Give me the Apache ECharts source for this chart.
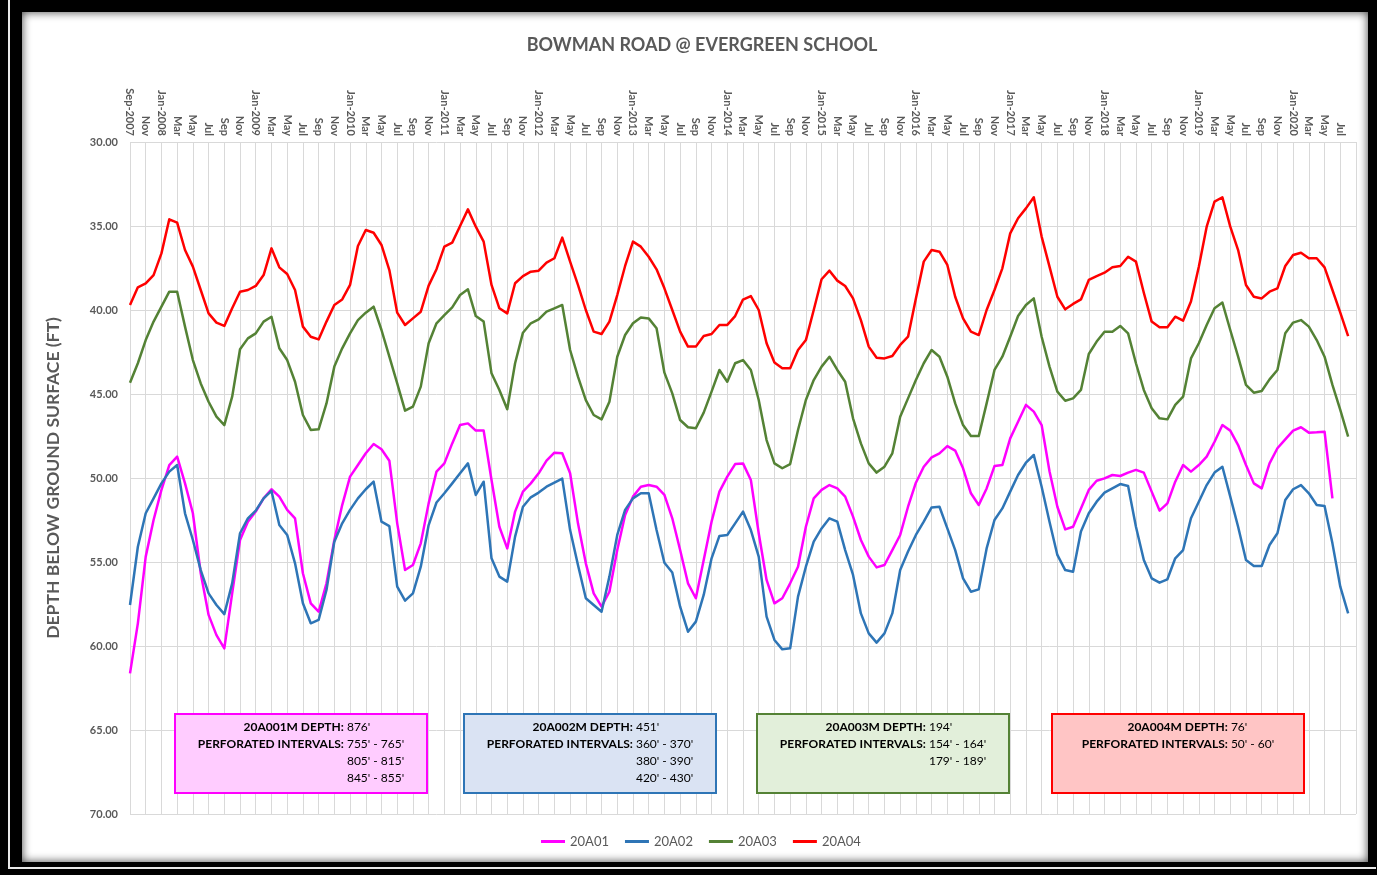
<!DOCTYPE html>
<html>
<head>
<meta charset="utf-8">
<script src="https://cdn.jsdelivr.net/npm/echarts@6/dist/echarts.min.js"></script>
<style>
  html, body { margin:0; padding:0; width:1377px; height:875px; background:#000; overflow:hidden; }
  #line { position:absolute; left:8px; top:0px; width:1366px; height:867px; border-left:2px solid #e8e8e8; border-bottom:2px solid #e8e8e8; }
  #panel { position:absolute; left:22px; top:12px; width:1346px; height:850px; background:#fff; box-shadow: inset 0 0 10px rgba(0,0,0,0.75); }
  #chart { position:absolute; left:0; top:0; width:1377px; height:875px; }
</style>
</head>
<body>
<div id="line"></div>
<div id="panel"></div>
<div id="chart"></div>
<script>
// ---- categories: monthly, Sep 2007 .. Aug 2020
const monthNames = ['Jan','Feb','Mar','Apr','May','Jun','Jul','Aug','Sep','Oct','Nov','Dec'];
const categories = [];
for (let y = 2007, m = 8; !(y === 2020 && m === 8); ) {
  categories.push(monthNames[m] + '-' + y);
  m++; if (m === 12) { m = 0; y++; }
}
categories.push('Aug-2020');

const yTicks = [30, 35, 40, 45, 50, 55, 60, 65, 70];
const seriesNames = ['20A01', '20A02', '20A03', '20A04'];

const s20A01 = [
61.63,58.65,54.68,52.50,50.71,49.23,48.73,50.32,52.10,55.67,58.15,59.35,60.14,56.87,53.69,52.60,52.00,51.21,50.67,51.11,
51.90,52.40,55.67,57.46,57.96,56.27,53.69,51.61,49.92,49.23,48.53,47.98,48.29,48.97,52.70,55.48,55.18,53.89,51.51,49.62,
49.13,47.94,46.85,46.75,47.18,47.18,50.12,52.90,54.19,52.00,50.81,50.32,49.72,48.97,48.49,48.53,49.72,52.70,55.08,56.87,
57.66,56.77,54.29,52.20,51.11,50.52,50.42,50.52,51.01,52.40,54.29,56.27,57.16,54.88,52.60,50.81,49.92,49.17,49.13,50.12,
53.29,56.07,57.46,57.16,56.27,55.28,52.90,51.21,50.71,50.42,50.62,51.11,52.30,53.69,54.68,55.32,55.18,54.29,53.39,51.71,
50.28,49.33,48.77,48.53,48.10,48.37,49.42,50.91,51.61,50.62,49.29,49.23,47.64,46.65,45.65,46.05,46.85,49.60,51.71,53.06,
52.90,51.81,50.71,50.16,50.02,49.82,49.88,49.68,49.52,49.68,50.81,51.94,51.51,50.22,49.23,49.62,49.23,48.73,47.84,46.85,
47.18,48.04,49.23,50.32,50.62,49.13,48.23,47.70,47.18,46.98,47.30,47.28,47.24,51.21,null,null];

const s20A02 = [
57.56,54.09,52.10,51.21,50.32,49.62,49.23,52.10,53.69,55.48,56.87,57.56,58.10,56.27,53.29,52.40,51.94,51.21,50.77,52.80,
53.39,55.08,57.46,58.65,58.45,56.67,53.79,52.70,51.90,51.21,50.67,50.22,52.60,52.86,56.47,57.30,56.87,55.28,52.80,51.46,
50.91,50.32,49.72,49.13,51.01,50.22,54.78,55.87,56.17,53.49,51.71,51.15,50.87,50.52,50.28,50.04,53.10,55.18,57.16,57.56,
57.96,55.87,53.39,51.90,51.21,50.91,50.91,53.10,55.04,55.63,57.66,59.15,58.55,56.96,54.78,53.45,53.39,52.70,52.00,53.10,
54.68,58.25,59.64,60.20,60.14,57.06,55.28,53.79,53.00,52.40,52.60,54.29,55.77,58.06,59.25,59.80,59.25,58.06,55.48,54.38,
53.39,52.60,51.75,51.71,53.00,54.29,55.97,56.77,56.63,54.19,52.50,51.81,50.81,49.82,49.09,48.63,50.52,52.60,54.58,55.48,
55.58,53.19,52.10,51.41,50.87,50.62,50.36,50.48,52.90,54.88,55.97,56.23,56.03,54.78,54.29,52.40,51.41,50.42,49.68,49.33,
51.11,52.90,54.88,55.24,55.24,53.99,53.29,51.31,50.67,50.42,50.91,51.61,51.67,53.89,56.47,58.06];

const s20A03 = [
44.33,43.17,41.79,40.69,39.80,38.91,38.91,40.99,42.98,44.37,45.46,46.35,46.85,45.16,42.34,41.69,41.39,40.69,40.40,42.28,
42.98,44.27,46.25,47.14,47.10,45.56,43.37,42.28,41.39,40.60,40.16,39.80,41.19,42.78,44.37,45.99,45.75,44.56,41.98,40.79,
40.30,39.84,39.11,38.77,40.36,40.69,43.77,44.76,45.91,43.17,41.35,40.79,40.56,40.10,39.90,39.70,42.38,43.97,45.36,46.25,
46.51,45.46,42.78,41.49,40.79,40.44,40.50,41.09,43.73,44.96,46.55,46.98,47.04,46.11,44.86,43.57,44.27,43.17,42.98,43.57,
45.36,47.74,49.13,49.42,49.17,47.14,45.36,44.17,43.37,42.78,43.57,44.27,46.45,47.94,49.13,49.68,49.33,48.53,46.35,45.26,
44.17,43.17,42.38,42.78,43.97,45.56,46.85,47.50,47.50,45.56,43.57,42.78,41.59,40.36,39.70,39.31,41.59,43.37,44.86,45.40,
45.26,44.76,42.62,41.88,41.29,41.29,40.95,41.39,43.17,44.76,45.85,46.45,46.51,45.65,45.16,42.88,41.98,40.89,39.90,39.56,
41.19,42.78,44.46,44.92,44.82,44.13,43.57,41.39,40.75,40.60,40.99,41.79,42.78,44.46,45.95,47.54];

const s20A04 = [
39.70,38.65,38.41,37.92,36.63,34.60,34.80,36.43,37.42,38.81,40.20,40.75,40.95,39.90,38.91,38.81,38.57,37.92,36.33,37.46,
37.86,38.81,40.99,41.59,41.75,40.69,39.70,39.37,38.51,36.19,35.24,35.40,36.13,37.62,40.16,40.89,40.50,40.10,38.55,37.57,
36.23,35.99,35.00,34.01,35.04,35.93,38.51,39.90,40.20,38.41,37.98,37.72,37.66,37.18,36.92,35.69,37.12,38.51,40.00,41.29,
41.43,40.69,39.11,37.38,35.93,36.23,36.83,37.58,38.71,40.00,41.29,42.18,42.18,41.55,41.43,40.89,40.89,40.36,39.38,39.17,
40.00,41.98,43.13,43.47,43.47,42.38,41.79,40.00,38.17,37.66,38.25,38.57,39.31,40.60,42.18,42.84,42.88,42.74,42.08,41.59,
39.31,37.12,36.43,36.53,37.32,39.21,40.50,41.29,41.49,40.00,38.81,37.52,35.44,34.54,33.95,33.29,35.63,37.42,39.21,39.96,
39.64,39.37,38.21,37.98,37.78,37.46,37.38,36.83,37.12,38.97,40.69,41.03,41.03,40.40,40.63,39.50,37.42,35.04,33.55,33.29,
35.04,36.43,38.51,39.21,39.31,38.91,38.71,37.38,36.73,36.59,36.92,36.92,37.46,38.81,40.16,41.55];

const seriesColors = ['#FF00FF', '#2E75B6', '#548235', '#FF0000'];

// annotation box texts
const boxHeads = ["20A001M DEPTH:", "20A002M DEPTH:", "20A003M DEPTH:", "20A004M DEPTH:"];
const boxDepths = [" 876'", " 451'", " 194'", " 76'"];
const boxIntervals = [
  [" 755' - 765'", " 805' - 815'", " 845' - 855'"],
  [" 360' - 370'", " 380' - 390'", " 420' - 430'"],
  [" 154' - 164'", " 179' - 189'"],
  [" 50' - 60'"]
];
const boxFills = ['#FFCCFF', '#DAE3F3', '#E2EFDA', '#FFC5C5'];
const boxStrokes = ['#FF00FF', '#2E75B6', '#548235', '#FF0000'];

const FONT = 'Lato, "Open Sans", sans-serif';
const GRAY = '#595959';

const chart = echarts.init(document.getElementById('chart'), null, { renderer: 'canvas' });

// text measuring
const mctx = document.createElement('canvas').getContext('2d');
function tw(txt, weight, size) { mctx.font = weight + ' ' + size + 'px ' + FONT; return mctx.measureText(txt).width; }

const BOX_FS = 12;
const boxLefts = [175, 464, 757, 1052];
const boxTop = 714, boxW = 252, boxH = 79, lineH = 17;
const graphics = [];
boxLefts.forEach((bx, k) => {
  graphics.push({ type:'rect', shape:{ x:bx, y:boxTop, width:boxW, height:boxH },
    style:{ fill: boxFills[k], stroke: boxStrokes[k], lineWidth: 2 }, z: 100 });
  const lab2 = 'PERFORATED INTERVALS:';
  const wB = tw(lab2, 'bold', BOX_FS), wV = tw(boxIntervals[k][0], 'normal', BOX_FS);
  const col = bx + boxW / 2 - (wB + wV) / 2 + wB;
  const rows = [[boxHeads[k], boxDepths[k]], [lab2, boxIntervals[k][0]]];
  for (let j = 1; j < boxIntervals[k].length; j++) rows.push(['', boxIntervals[k][j]]);
  rows.forEach((r, j) => {
    const yy = boxTop + 13 + j * lineH;
    if (r[0]) graphics.push({ type:'text', x: col, y: yy, z: 101,
      style:{ text: r[0], fill:'#000', font: 'bold ' + BOX_FS + 'px ' + FONT, textAlign:'right', textVerticalAlign:'middle' } });
    graphics.push({ type:'text', x: col, y: yy, z: 101,
      style:{ text: r[1], fill:'#000', font: 'normal ' + BOX_FS + 'px ' + FONT, textAlign:'left', textVerticalAlign:'middle' } });
  });
});

const allData = [s20A01, s20A02, s20A03, s20A04];

const option = {
  backgroundColor: 'transparent',
  animation: false,
  title: {
    text: 'BOWMAN ROAD @ EVERGREEN SCHOOL',
    left: 697, top: 31, textAlign: 'center',
    textStyle: { fontFamily: FONT, fontSize: 18, fontWeight: 'bold', color: GRAY }
  },
  legend: {
    data: seriesNames,
    left: 536, top: 830,
    icon: 'rect', itemWidth: 24, itemHeight: 3, itemGap: 16,
    textStyle: { fontFamily: FONT, fontSize: 13, color: GRAY }
  },
  grid: { left: 130, right: 21, top: 142, bottom: 61, containLabel: false },
  xAxis: {
    type: 'category',
    position: 'top',
    data: categories,
    boundaryGap: false,
    axisLine: { show: false },
    axisTick: { show: false },
    axisLabel: {
      interval: 1, rotate: 90, margin: 6, showMaxLabel: false,
      fontFamily: FONT, fontSize: 11, fontWeight: 'bold', color: GRAY,
      formatter: function (v, idx) {
        const p = v.split('-');
        if (idx === 0 || p[0] === 'Jan') return v;
        return p[0];
      }
    },
    splitLine: { show: true, interval: 1, lineStyle: { color: '#d9d9d9', width: 1 } }
  },
  yAxis: {
    type: 'value',
    inverse: true,
    min: yTicks[0], max: yTicks[yTicks.length - 1], interval: 5,
    name: 'DEPTH BELOW GROUND SURFACE (FT)',
    nameLocation: 'middle', nameGap: 68, nameRotate: 90,
    nameTextStyle: { fontFamily: FONT, fontSize: 17.5, fontWeight: 'bold', color: GRAY },
    axisLine: { show: false },
    axisTick: { show: false },
    axisLabel: { margin: 12, fontFamily: FONT, fontSize: 11, fontWeight: 'bold', color: GRAY,
      formatter: v => v.toFixed(2) },
    splitLine: { show: true, lineStyle: { color: '#d9d9d9', width: 1 } }
  },
  series: seriesNames.map((n, k) => ({
    name: n, type: 'line', data: allData[k],
    showSymbol: false, symbol: 'none', connectNulls: false,
    lineStyle: { width: 2.5, color: seriesColors[k], join: 'round' },
    itemStyle: { color: seriesColors[k] },
    z: 2 + k
  })),
  graphic: graphics
};
chart.setOption(option);
</script>
</body>
</html>
